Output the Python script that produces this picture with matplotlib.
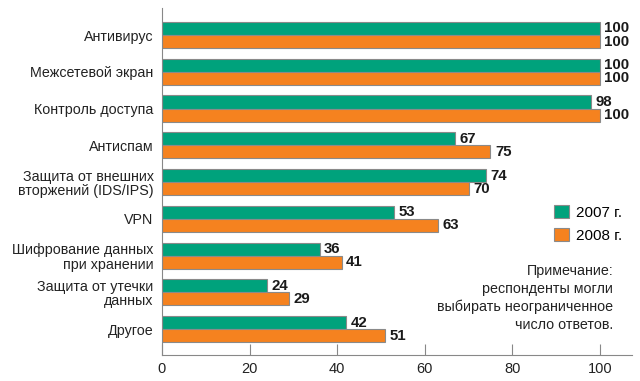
import matplotlib
matplotlib.use("Agg")
import matplotlib.pyplot as plt
import numpy as np

categories = ["Антивирус", "Межсетевой экран", "Контроль доступа", "Антиспам",
              "Защита от внешних\nвторжений (IDS/IPS)", "VPN",
              "Шифрование данных\nпри хранении", "Защита от утечки\nданных", "Другое"]
v2007 = [100, 100, 98, 67, 74, 53, 36, 24, 42]
v2008 = [100, 100, 100, 75, 70, 63, 41, 29, 51]
series_labels = ["2007 г.", "2008 г."]
xticks = [0, 20, 40, 60, 80, 100]
note = "Примечание:\nреспонденты могли\nвыбирать неограниченное\nчисло ответов."

green = "#00a27c"
orange = "#f5821f"
edge = "#8a8a8a"

plt.rcParams['font.family'] = ['Liberation Sans', 'DejaVu Sans']

fig = plt.figure(figsize=(6.4, 3.81), dpi=100)
ax = fig.add_axes([0.253, 0.068, 0.7345, 0.911])

y = np.arange(len(categories))
h = 0.355
b1 = ax.barh(y - h / 2, v2007, height=h, color=green, edgecolor=edge, linewidth=0.8, label=series_labels[0])
b2 = ax.barh(y + h / 2, v2008, height=h, color=orange, edgecolor=edge, linewidth=0.8, label=series_labels[1])

for bars, vals in ((b1, v2007), (b2, v2008)):
    for rect, v in zip(bars, vals):
        ax.text(v + 1.0, rect.get_y() + rect.get_height() / 2, str(v),
                va='center', ha='left', fontsize=10.8, fontweight='bold', color='#1a1a1a')

ax.set_ylim(8.707, -0.735)
ax.set_xlim(0, 107.3)
ax.set_yticks(y)
ax.set_yticklabels(categories, fontsize=10.3, color='#222222', linespacing=1.05)
ax.set_xticks(xticks)
ax.set_xticklabels([str(t) for t in xticks], fontsize=10.5, color='#222222')
ax.tick_params(axis='y', length=0, pad=6)
ax.tick_params(axis='x', direction='in', length=8, color='#888888', pad=5)

for s in ('top', 'right'):
    ax.spines[s].set_visible(False)
ax.spines['left'].set_color('#888888')
ax.spines['bottom'].set_color('#888888')

leg = ax.legend(loc='upper left', bbox_to_anchor=(0.818, 0.455), frameon=False,
                fontsize=11, handlelength=1.0, handleheight=1.0, handletextpad=0.45,
                labelspacing=0.5, borderpad=0)

ax.text(0.96, 0.165, note, transform=ax.transAxes, ha='right', va='center',
        fontsize=10.3, color='#222222', linespacing=1.36)

fig.savefig("out.png", dpi=100)
